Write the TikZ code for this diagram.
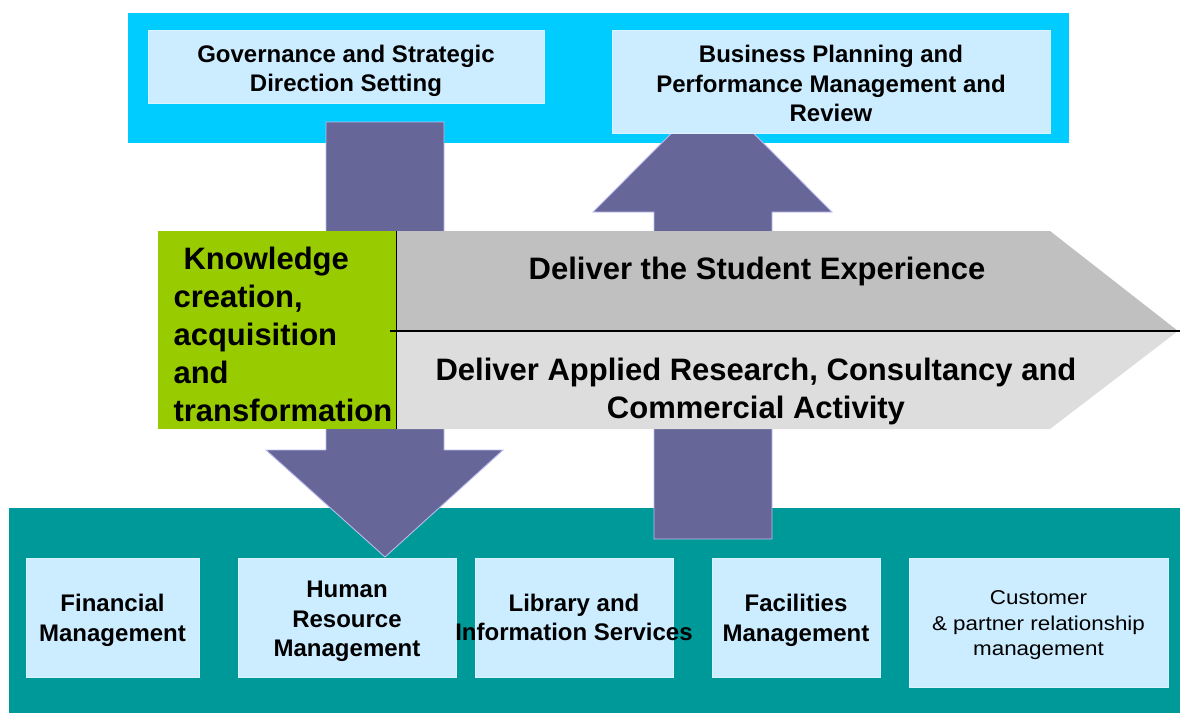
\documentclass[tikz,border=0pt]{standalone}
\usepackage{fontspec}
\setmainfont{Liberation Sans}
\definecolor{cyanband}{HTML}{00CCFF}
\definecolor{lightbox}{HTML}{CCECFF}
\definecolor{arrowfill}{HTML}{666699}
\definecolor{arrowedge}{HTML}{BBBBEE}
\definecolor{greenbox}{HTML}{99CC00}
\definecolor{graytop}{HTML}{C0C0C0}
\definecolor{graybot}{HTML}{DDDDDD}
\definecolor{tealband}{HTML}{009999}
\begin{document}
\begin{tikzpicture}[x=1pt,y=-1pt,
  band/.style={draw=none,inner sep=0pt},
  lbox/.style={fill=lightbox,draw=lightbox!70!white,line width=0.8pt,inner sep=0pt,align=center},
  boxtext/.style={font=\fontsize{24}{29.5}\selectfont\bfseries,align=center},
  bigtext/.style={font=\fontsize{31}{38}\selectfont\bfseries},
  blockarrow/.style={fill=arrowfill,draw=arrowedge,line width=0.9pt,line join=miter}]
\useasboundingbox (0,0) rectangle (1180,713);
\fill[white] (0,0) rectangle (1180,713);
% bands
\node[band,fill=cyanband,minimum width=941pt,minimum height=130pt] (topband) at (598.5,78) {};
\node[band,fill=tealband,minimum width=1171pt,minimum height=205pt] (botband) at (594.5,610.5) {};
% block arrows
\draw[blockarrow] (326,122) -- (444,122) -- (444,450) -- (503,450) -- (385,557) -- (266,450) -- (326,450) -- cycle;
\draw[blockarrow] (654,539) -- (654,212) -- (593,212) -- (712.5,92) -- (832,212) -- (772,212) -- (772,539) -- cycle;
% top boxes
\node[lbox,minimum width=396pt,minimum height=73pt] (gov) at (346,67) {};
\node[boxtext] (govt) at ([yshift=-4pt]gov.center) {Governance and Strategic\\Direction Setting};
\node[lbox,minimum width=438pt,minimum height=103pt] (bus) at (831,81.5) {};
\node[boxtext] (bust) at ([yshift=-2pt]bus.center) {Business Planning and\\Performance Management and\\Review};
% central arrow
\fill[graytop] (396,231) -- (1050,231) -- (1178,331) -- (396,331) -- cycle;
\fill[graybot] (396,331) -- (1178,331) -- (1050,429) -- (396,429) -- cycle;
\node[band,fill=greenbox,minimum width=238pt,minimum height=198pt] (green) at (277,330) {};
\coordinate (divL) at (390,331);
\coordinate (divR) at (1180,331);
\draw[black,line width=1.4pt] (divL) -- (divR);
\draw[black,line width=1pt] (green.north east) -- (green.south east);
\node[bigtext,align=left,anchor=west] (know) at (170,334) {\hspace{10pt}Knowledge\\creation,\\acquisition\\and\\transformation};
\node[bigtext] (stud) at (757,271) {Deliver the Student Experience};
\node[bigtext,align=center] (res) at (756,391) {Deliver Applied Research, Consultancy and\\Commercial Activity};
% bottom boxes
\node[lbox,minimum width=173pt,minimum height=119pt] (fin) at (112.5,617.5) {};
\node[boxtext] (fint) at ([yshift=-3pt]fin.center) {Financial\\Management};
\node[lbox,minimum width=218pt,minimum height=119pt] (hr) at (347,617.5) {};
\node[boxtext] (hrt) at ([yshift=-4pt]hr.center) {Human\\Resource\\Management};
\node[lbox,minimum width=198pt,minimum height=119pt] (lib) at (574,617.5) {};
\node[boxtext] (libt) at (lib.center) {Library and\\Information Services};
\node[lbox,minimum width=168pt,minimum height=119pt] (fac) at (796,617.5) {};
\node[boxtext] (fact) at ([yshift=-3pt]fac.center) {Facilities\\Management};
\node[lbox,minimum width=259pt,minimum height=129pt] (cust) at (1038.5,622.5) {};
\node[font=\fontsize{20}{25.5}\selectfont\addfontfeature{FakeStretch=1.12},align=center] (custt) at ([yshift=-3pt]cust.center) {Customer\\\& partner relationship\\management};
\end{tikzpicture}
\end{document}
